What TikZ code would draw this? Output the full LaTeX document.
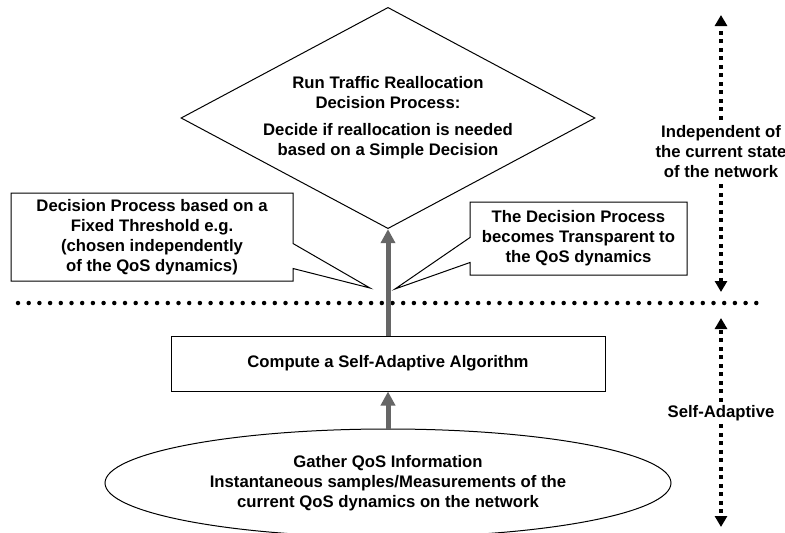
\documentclass[tikz,border=0pt]{standalone}
\usepackage{fontspec}
\setmainfont{Liberation Sans}
\usetikzlibrary{shapes.geometric,shapes.callouts,arrows.meta}

\begin{document}
\begin{tikzpicture}[x=1pt,y=-1pt,font=\fontsize{16.7}{20}\selectfont\bfseries]
                        \tikzstyle{box}=[draw,line width=1pt,align=center,inner sep=0pt]
                        \tikzstyle{note}=[box,rectangle callout,callout pointer width=25pt]
                        \tikzstyle{flow}=[draw=black!60,line width=5pt,-{Triangle[width=14pt,length=14pt]}]
                        \tikzstyle{side}=[line width=4pt,dash pattern=on 4pt off 4.5pt,-{Triangle[width=12pt,length=11pt]}]
                        \tikzstyle{divider}=[line width=4.5pt,line cap=round,dash pattern=on 0pt off 10.7pt]
                        \useasboundingbox (0,0) rectangle (785,533);
                        \clip (0,0) rectangle (785,533);

                        \node[box,shape=diamond,aspect=1.8,minimum width=414pt,minimum height=216pt] (decide) at (388,118)
                            {Run Traffic Reallocation\\Decision Process:\\[7pt]Decide if reallocation is needed\\based on a Simple Decision};
                        \node[box,minimum width=434pt,minimum height=55pt] (compute) at (388,363.5)
                            {Compute a Self-Adaptive Algorithm};
                        \node[box,shape=ellipse,minimum width=566pt,minimum height=108pt] (gather) at (388,483)
                            {Gather QoS Information\\Instantaneous samples/Measurements of the\\current QoS dynamics on the network};

                        \node[note,minimum width=282pt,minimum height=88pt,callout absolute pointer={(370,288)}] (fixed) at (152,237)
                            {Decision Process based on a\\Fixed Threshold e.g.\\(chosen independently\\of the QoS dynamics)};
                        \node[note,minimum width=217pt,minimum height=73pt,callout absolute pointer={(395,289)}] (transparent) at (578.5,238.5)
                            {The Decision Process\\becomes Transparent to\\the QoS dynamics};

                        % split between the two regimes
                        \coordinate (divleft) at (18,303);
                        \coordinate (divright) at (765,303);
                        \draw[divider] (divleft) -- (divright);

                        \draw[flow] (compute.north) -- (decide.south);
                        \draw[flow] (gather.north) -- (compute.south);

                        % scope markers on the right
                        \node[align=center,inner sep=6pt] (independent) at (721,152)
                            {Independent of\\the current state\\of the network};
                        \coordinate (indtop) at (721,15);
                        \coordinate (indbottom) at (721,292);
                        \draw[side] (independent) -- (indtop);
                        \draw[side] (independent) -- (indbottom);

                        \node (adaptive) at (721,413) {Self-Adaptive};
                        \coordinate (adtop) at (721,318);
                        \coordinate (adbottom) at (721,527);
                        \draw[side] (adaptive) -- (adtop);
                        \draw[side] (adaptive) -- (adbottom);
                    \end{tikzpicture}
\end{document}
